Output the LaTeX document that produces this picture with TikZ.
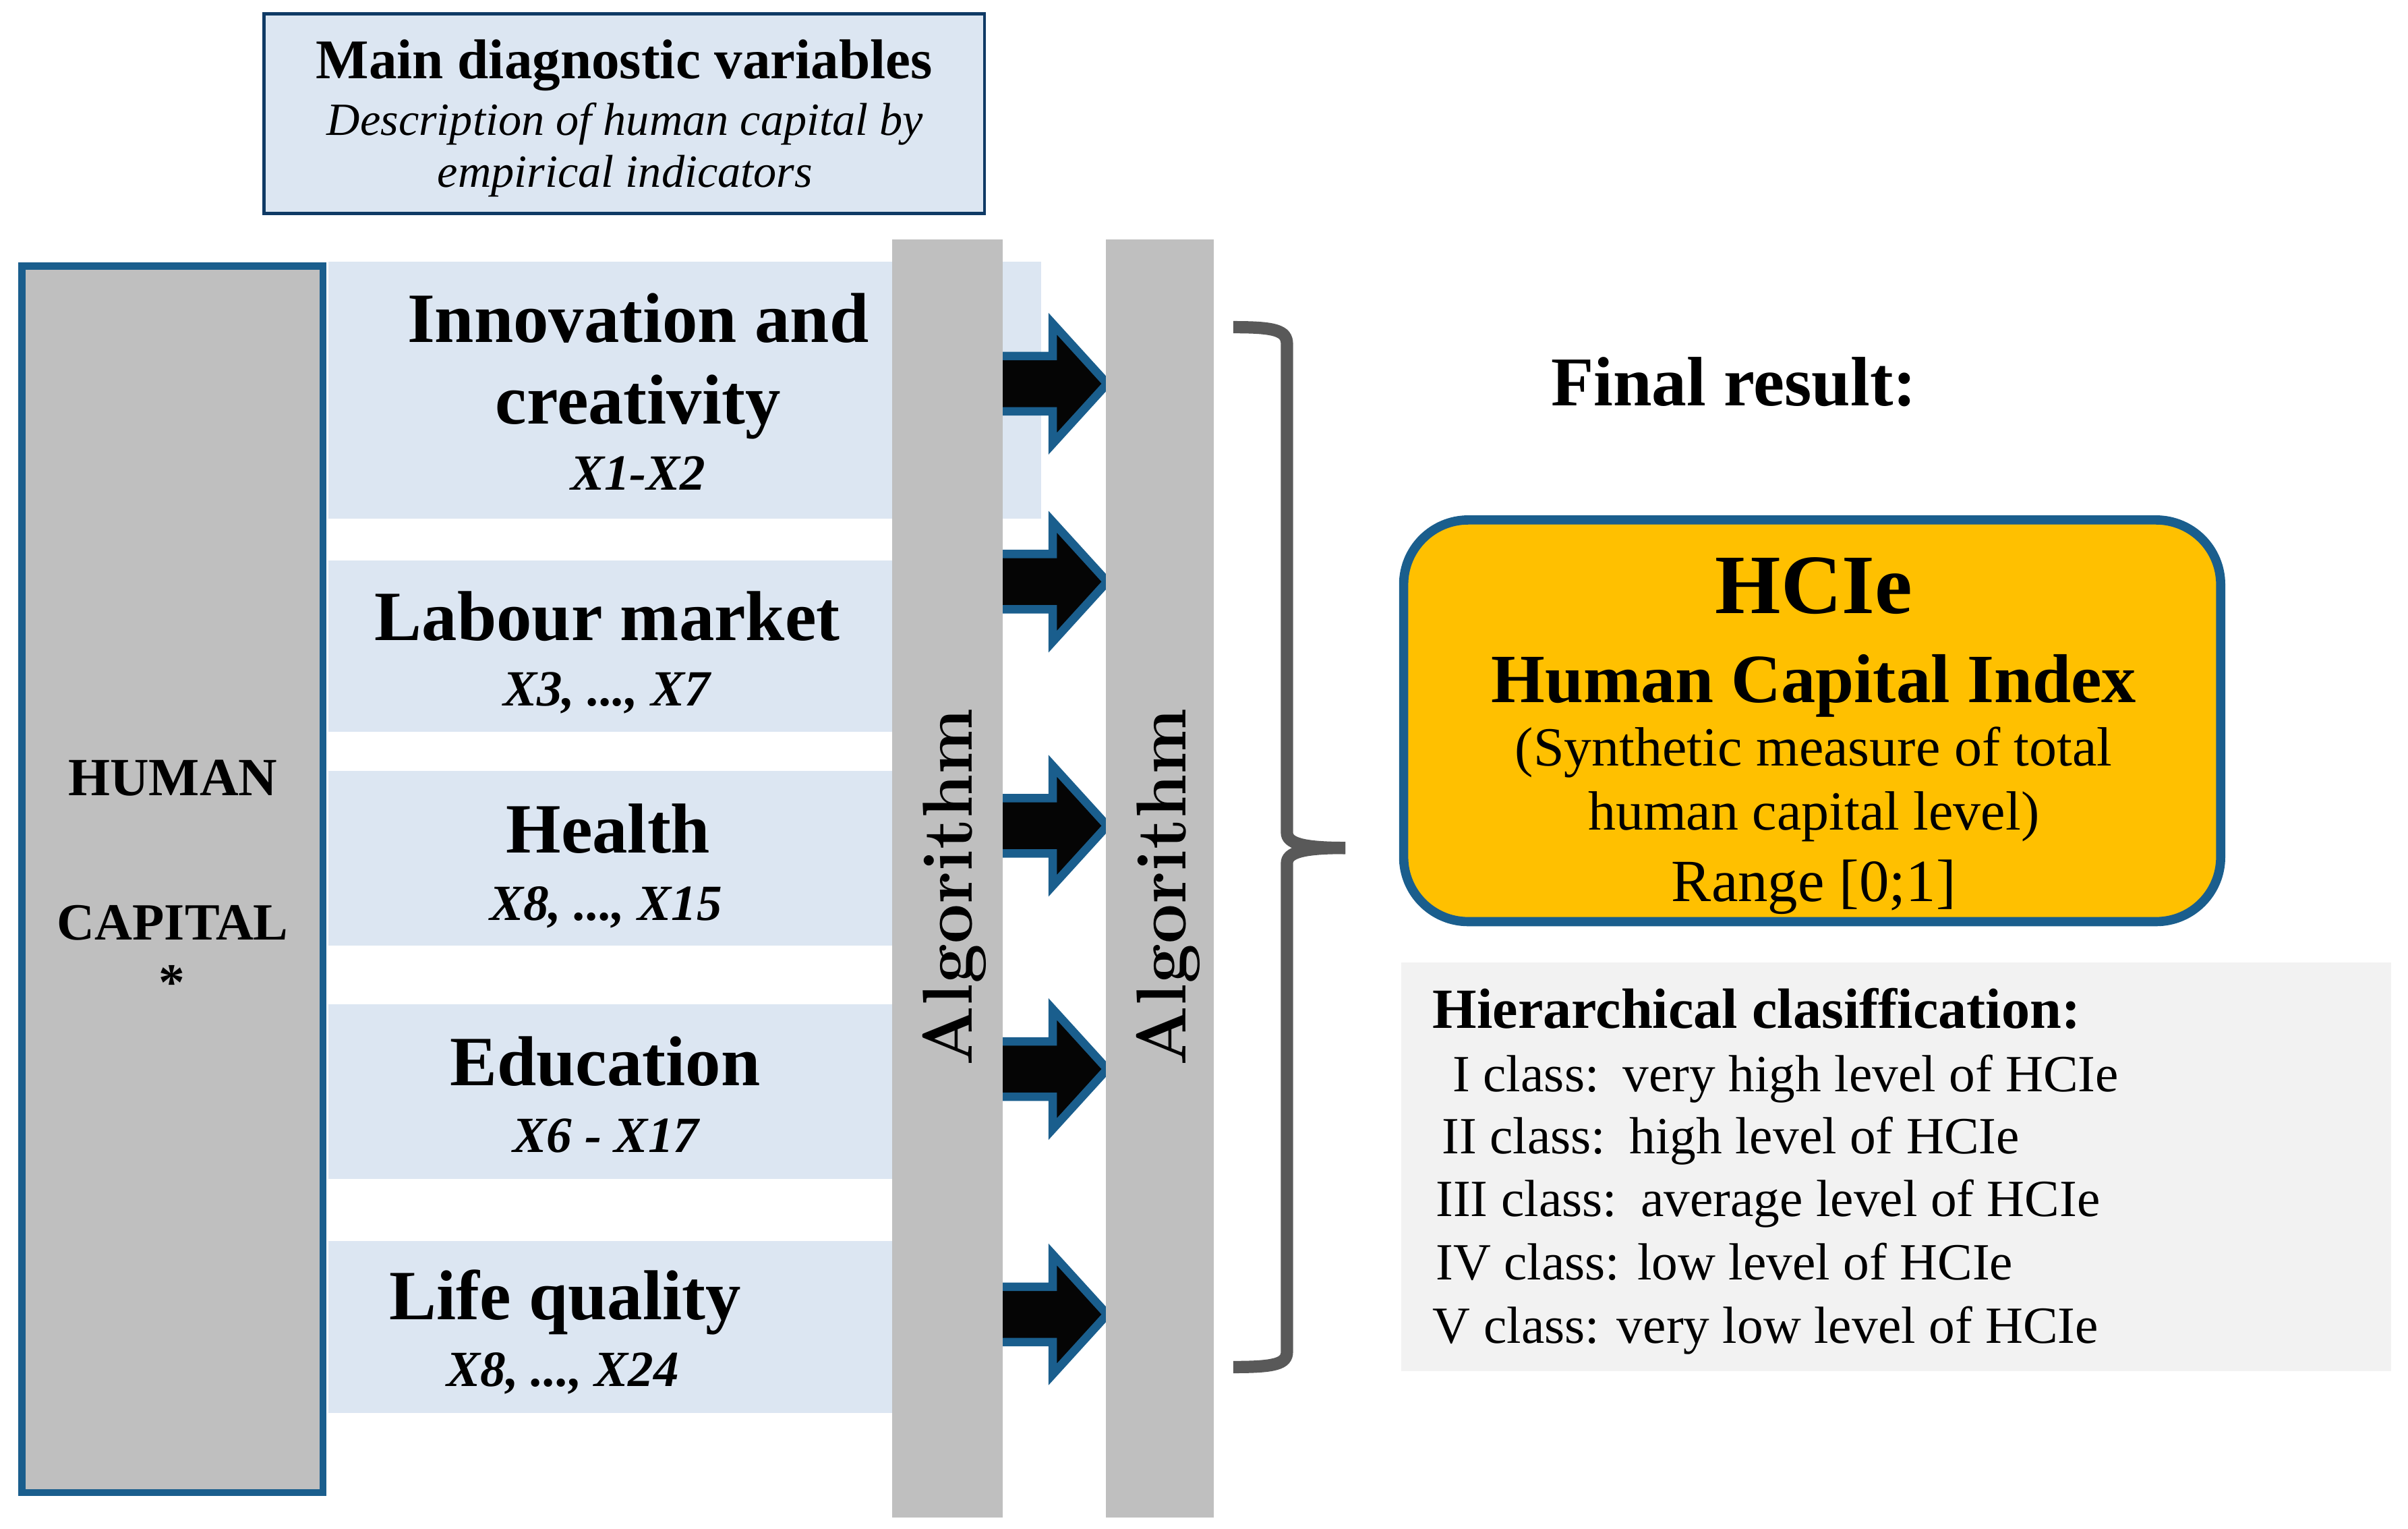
\documentclass[tikz,border=0pt]{standalone}
\usepackage{fontspec}
\setmainfont{Liberation Serif}
\newfontfamily\lmfont{Latin Modern Roman}
\definecolor{stripblue}{HTML}{DCE6F2}
\definecolor{colgray}{HTML}{BFBFBF}
\definecolor{edgeblue}{HTML}{1A5E8D}
\definecolor{navy}{HTML}{0F3A65}
\definecolor{gold}{HTML}{FFC000}
\definecolor{paleg}{HTML}{F2F2F2}
\definecolor{bracegray}{HTML}{595959}
\newcommand{\fs}[1]{\fontsize{#1}{#1}\selectfont}
\begin{document}
\begin{tikzpicture}[x=1pt,y=-1pt,
  rect/.style={rectangle,inner sep=0pt,outer sep=0pt},
  stripbox/.style={rect,fill=stripblue},
  colbox/.style={rect,fill=colgray},
  blockarrow/.style={fill=black!98,draw=edgeblue,line width=5.5pt,miter limit=10},
  txt/.style={inner sep=0pt,outer sep=0pt,anchor=base},
  head/.style={txt,font=\fs{46}\bfseries},
  sub/.style={txt,font=\fs{33}\bfseries\itshape},
  cls/.style={txt,anchor=base west,font=\fs{34}},
  alg/.style={inner sep=0pt,outer sep=0pt,rotate=90,anchor=base west,font=\lmfont\fs{46}\bfseries}
]
\useasboundingbox (0,0) rectangle (1568,995);

% top box
\node[rect,draw=navy,fill=stripblue,line width=2pt,minimum width=469pt,minimum height=130pt] (top) at (406.5,74) {};
\node[txt,font=\fs{36.5}\bfseries] (t1) at (406.5,51) {Main diagnostic variables};
\node[txt,font=\fs{30}\itshape] (t2) at (407,88) {Description of human capital by};
\node[txt,font=\fs{30}\itshape] (t3) at (407,122) {empirical indicators};

% left box
\node[rect,draw=edgeblue,fill=colgray,line width=4.5pt,minimum width=196pt,minimum height=798.5pt] (hc) at (112.25,572.5) {};
\node[txt,font=\fs{35}\bfseries] (hc1) at (112.5,517.7) {HUMAN};
\node[txt,font=\fs{34}\bfseries] (hc2) at (112.5,611.7) {CAPITAL};
\node[txt,font=\fs{34}\bfseries] (hc3) at (112,651) {*};

% strips
\node[stripbox,minimum width=464pt,minimum height=167.2pt] (s1) at (446,254) {};
\node[stripbox,minimum width=367pt,minimum height=111.5pt] (s2) at (397.5,420.75) {};
\node[stripbox,minimum width=367pt,minimum height=113.5pt] (s3) at (397.5,558.75) {};
\node[stripbox,minimum width=367pt,minimum height=113.5pt] (s4) at (397.5,710.75) {};
\node[stripbox,minimum width=367pt,minimum height=112pt] (s5) at (397.5,864) {};

% arrows
\foreach \yy in {249.8,378.7,537.6,696,855.7}{
  \draw[blockarrow] (640,{\yy-18}) -- (685.5,{\yy-18}) -- (685.5,{\yy-39}) -- (721,\yy)
     -- (685.5,{\yy+39}) -- (685.5,{\yy+18}) -- (640,{\yy+18}) -- cycle;
}

% algorithm columns
\node[colbox,minimum width=72pt,minimum height=832pt] (c1) at (617,572) {};
\node[colbox,minimum width=70.5pt,minimum height=832pt] (c2) at (755.25,572) {};
\node[alg] (alg1) at (633,694) {Algorithm};
\node[alg] (alg2) at (772,694) {Algorithm};

% strip texts
\node[head] (n1) at (415.5,223) {Innovation and};
\node[head] (n1b) at (415.5,276) {creativity};
\node[sub] (x1) at (415.5,319) {X1-X2};
\node[head] (n2) at (395.5,417) {Labour market};
\node[sub] (x2) at (395,459.7) {X3, ..., X7};
\node[head] (n3) at (396,555.4) {Health};
\node[sub] (x3) at (394.5,599) {X8, ..., X15};
\node[head] (n4) at (394,706.8) {Education};
\node[sub] (x4) at (394.5,750.4) {X6 - X17};
\node[head] (n5) at (368,859.2) {Life quality};
\node[sub] (x5) at (366.5,902.4) {X8, ..., X24};

% brace
\draw[bracegray,line width=8pt] (803,213) .. controls (830,213) and (838,215) .. (838,224)
  -- (838,542) .. controls (838,549) and (848,552) .. (876,552);
\draw[bracegray,line width=8pt] (876,552) .. controls (848,552) and (838,555) .. (838,562)
  -- (838,880) .. controls (838,888) and (830,890) .. (803,890);

% final result
\node[txt,anchor=base west,font=\fs{45.5}\bfseries] (fr) at (1010,264) {Final result:};

% HCIe box
\node[rect,draw=edgeblue,fill=gold,line width=6pt,rounded corners=42pt,minimum width=532pt,minimum height=261.5pt] (hcie) at (1180,469.25) {};
\node[txt,font=\fs{55}\bfseries] (h1) at (1181,399.5) {HCIe};
\node[txt,font=\fs{45}\bfseries] (h2) at (1181,457.3) {Human Capital Index};
\node[txt,font=\fs{36}] (h3) at (1181,498.4) {(Synthetic measure of total};
\node[txt,font=\fs{36}] (h4) at (1181,540.5) {human capital level)};
\node[txt,font=\fs{39}] (h5) at (1181,586.7) {Range [0;1]};

% classification box
\node[rect,fill=paleg,minimum width=644.5pt,minimum height=266.2pt] (cb) at (1234.75,759.6) {};
\node[cls,font=\fs{37}\bfseries] (k0) at (933,669.3) {Hierarchical clasiffication:};
\node[cls] (k1) at (946,710.8) {I class:\hspace{4pt} very high level of HCIe};
\node[cls] (k2) at (939,750.9) {II class:\hspace{4pt} high level of HCIe};
\node[cls] (k3) at (935,792.1) {III class:\hspace{4pt} average level of HCIe};
\node[cls] (k4) at (935,833.3) {IV class: low level of HCIe};
\node[cls] (k5) at (933,874.5) {V class: very low level of HCIe};
\end{tikzpicture}
\end{document}
